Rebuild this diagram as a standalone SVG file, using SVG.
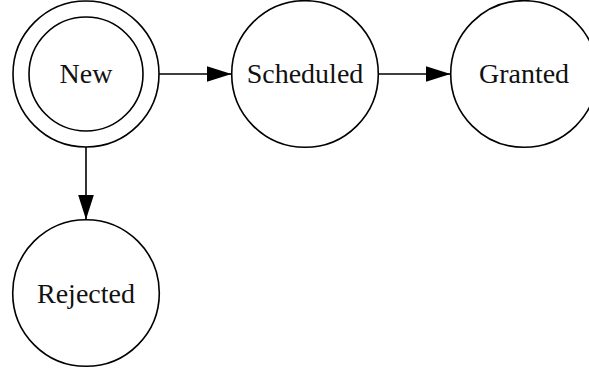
<svg xmlns="http://www.w3.org/2000/svg" width="589" height="370" viewBox="0 0 589 370">
<style>
.n{fill:none;stroke:#000;stroke-width:1.6}
.t{font-family:"Liberation Serif","Times New Roman",serif;font-size:28px;fill:#111;text-anchor:middle}
.e{stroke:#000;stroke-width:1.6;fill:none}
</style>
<defs>
<marker id="ah" markerUnits="userSpaceOnUse" markerWidth="26" markerHeight="18" refX="25" refY="8.5" orient="auto">
<path d="M0,0.5 L25,8.5 L0,16.5 Z" fill="#000"/>
</marker>
</defs>
<rect width="589" height="370" fill="#fff"/>
<g id="edges">
<line class="e" x1="159" y1="74" x2="231.5" y2="74" marker-end="url(#ah)"/>
<line class="e" x1="378.5" y1="74" x2="450.5" y2="74" marker-end="url(#ah)"/>
<line class="e" x1="86" y1="147" x2="86" y2="219.5" marker-end="url(#ah)"/>
</g>
<g id="New">
<circle class="n" cx="86" cy="74" r="73"/>
<circle class="n" cx="86" cy="74" r="57"/>
<text class="t" x="86" y="82.7">New</text>
</g>
<g id="Scheduled">
<circle class="n" cx="305" cy="74" r="73.3"/>
<text class="t" x="305" y="82.7">Scheduled</text>
</g>
<g id="Granted">
<circle class="n" cx="524" cy="74" r="73.3"/>
<text class="t" x="524" y="82.7">Granted</text>
</g>
<g id="Rejected">
<circle class="n" cx="86" cy="293" r="73.3"/>
<text class="t" x="86" y="303.3">Rejected</text>
</g>
</svg>
